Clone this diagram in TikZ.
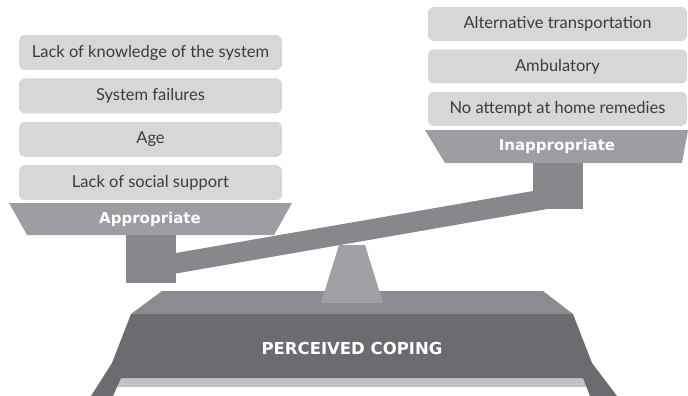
\documentclass[tikz,border=0pt]{standalone}
\usepackage{fontspec}
\setmainfont{Lato}
\newfontfamily\panfont{DejaVu Sans}
\usepackage{tikz}
\usetikzlibrary{positioning}
\definecolor{boxgray}{HTML}{D7D7D9}
\definecolor{textgray}{HTML}{3C3C3C}
\definecolor{pangray}{HTML}{9D9EA1}
\definecolor{beamgray}{HTML}{87888C}
\definecolor{pivotgray}{HTML}{A0A1A4}
\definecolor{basetop}{HTML}{8B8C90}
\definecolor{basefront}{HTML}{6B6C70}
\definecolor{stripgray}{HTML}{C1C2C4}

\begin{document}
\begin{tikzpicture}[x=1pt, y=-1pt,
    factor/.style={rounded corners=6pt, fill=boxgray, text=textgray, inner sep=0pt,
        minimum height=35pt, font=\fontsize{16.5}{18}\selectfont},
    pantext/.style={text=white, inner sep=0pt, font=\panfont\bfseries\fontsize{15}{17}\selectfont}]
    \useasboundingbox (0,0) rectangle (688,396);

    % Base
    \fill[stripgray] (115,378) rectangle (589,387);
    \fill[basetop] (162,291) -- (543,291) -- (573,314) -- (131,314) -- cycle;
    \fill[basefront] (131,314) -- (573,314) -- (592,363) -- (617,396) -- (590,396) -- (583,378)
        -- (121,378) -- (113,396) -- (91,396) -- (112,363) -- cycle;

    % Pivot and beam
    \fill[pivotgray] (339,245) -- (365,245) -- (383,303) -- (321,303) -- cycle;
    \fill[beamgray] (150,257.5) -- (560,186.3) -- (560,206.8) -- (150,278) -- cycle;
    \fill[beamgray] (126,235) rectangle (176,283);
    \fill[beamgray] (533,163) rectangle (583,209);

    % Pans
    \fill[pangray] (9,203) -- (292,203) -- (274,235) -- (27,235) -- cycle;
    \fill[pangray] (425,130) -- (688,130) -- (682,163) -- (445,163) -- cycle;

    % Nodes
    \node[pantext] (appr) at (150,219) {Appropriate};
    \node[pantext] (inappr) at (557,146.5) {Inappropriate};
    \node[pantext, font=\panfont\bfseries\fontsize{16.5}{18}\selectfont] (coping) at (352,348.5) {PERCEIVED COPING};

    \node[factor, minimum width=263pt] (L1) at (150.5,52.5) {Lack of knowledge of the system};
    \node[factor, minimum width=263pt, below=8pt of L1] (L2) {System failures};
    \node[factor, minimum width=263pt, below=8pt of L2] (L3) {Age};
    \node[factor, minimum width=263pt, below=8pt of L3] (L4) {Lack of social support};

    \node[factor, minimum width=259pt, minimum height=34pt] (R1) at (557.5,24) {Alternative transportation};
    \node[factor, minimum width=259pt, minimum height=34pt, below=8pt of R1] (R2) {Ambulatory};
    \node[factor, minimum width=259pt, minimum height=34pt, below=8pt of R2] (R3) {No attempt at home remedies};
\end{tikzpicture}
\end{document}
